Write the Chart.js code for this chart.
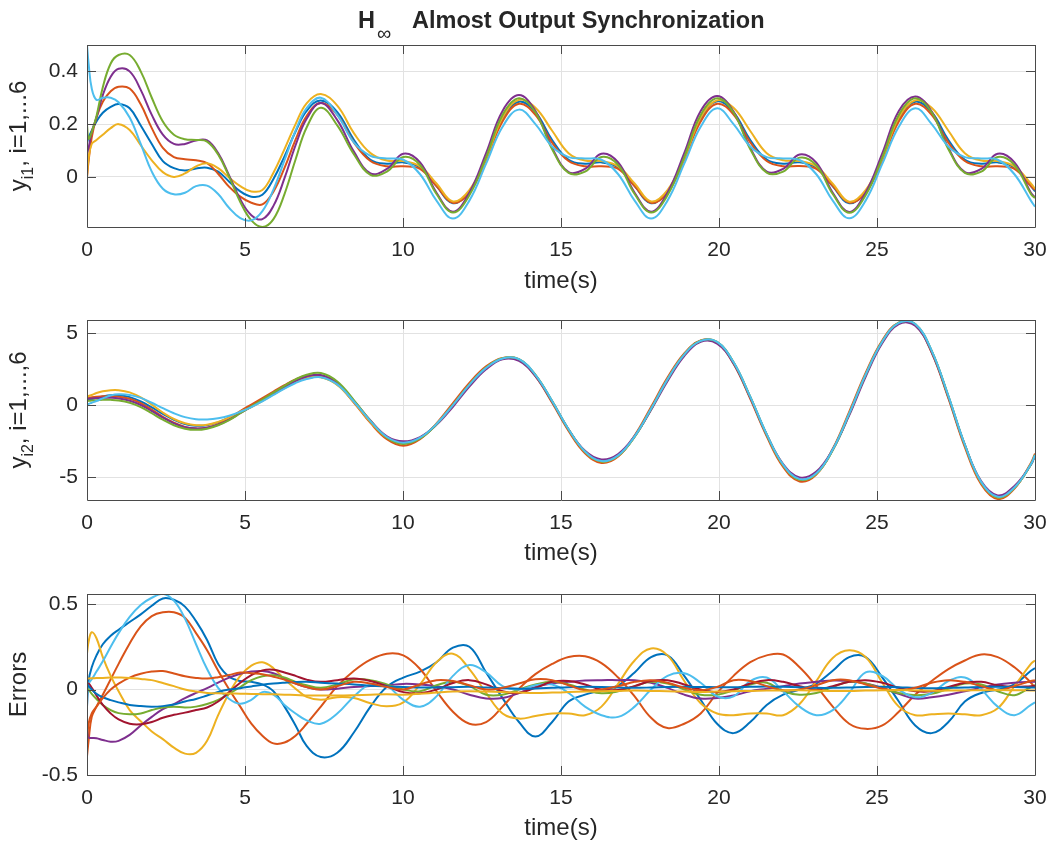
<!DOCTYPE html>
<html lang="en">
<head>
<meta charset="UTF-8">
<title>H∞ Almost Output Synchronization</title>
<script src="https://cdn.jsdelivr.net/npm/chart.js"></script>
<style>
  body { margin: 0; background: #fff; }
  canvas { position: absolute; left: 0; }
</style>
</head>
<body>
<canvas id="c1" width="1046" height="300" style="top:0px"></canvas>
<canvas id="c2" width="1046" height="270" style="top:300px"></canvas>
<canvas id="c3" width="1046" height="272" style="top:570px"></canvas>
<script>
// sample times (s), shared by all three panels
const times = [
  0, 0.05, 0.15, 0.3, 0.5, 0.75, 1, 1.35, 1.7, 2.05, 2.4, 2.75, 3.1, 3.45, 3.8, 4.15, 4.5, 4.85, 5.2, 5.55, 5.9, 6.25, 6.6, 6.95,
  7.4, 7.92, 8.45, 8.97, 9.49, 10.01, 10.54, 11.06, 11.58, 12.1, 12.63, 13.15,
  13.67, 14.19, 14.72, 15.24, 15.76, 16.28, 16.81, 17.33, 17.85, 18.37, 18.9, 19.42,
  19.94, 20.46, 20.99, 21.51, 22.03, 22.55, 23.08, 23.6, 24.12, 24.64, 25.17, 25.69,
  26.21, 26.73, 27.26, 27.78, 28.3, 28.82, 29.35, 29.87, 30
];
const xTicks = [0, 5, 10, 15, 20, 25, 30];
const y1Ticks = [0, 0.2, 0.4];
const y2Ticks = [-5, 0, 5];
const errTicks = [-0.5, 0, 0.5];

// y_i1
const y1Blue = [
  0.13, 0.15, 0.175, 0.21, 0.243, 0.265, 0.276, 0.26, 0.195, 0.125, 0.06, 0.033, 0.024, 0.032, 0.035, 0.02, -0.018, -0.055, -0.075, -0.068, -0.008, 0.078, 0.172, 0.25,
  0.29, 0.245, 0.14, 0.065, 0.05, 0.055, 0.035, -0.035, -0.1, -0.055, 0.07, 0.22,
  0.285, 0.245, 0.14, 0.065, 0.05, 0.055, 0.035, -0.035, -0.1, -0.055, 0.07, 0.22,
  0.287, 0.244, 0.14, 0.066, 0.05, 0.055, 0.034, -0.036, -0.1, -0.056, 0.07, 0.22,
  0.285, 0.245, 0.14, 0.065, 0.05, 0.055, 0.035, -0.035, -0.055
];
const y1Orange = [
  0.0, 0.06, 0.15, 0.225, 0.285, 0.325, 0.342, 0.335, 0.275, 0.185, 0.11, 0.075, 0.067, 0.063, 0.052, 0.012, -0.038, -0.075, -0.098, -0.104, -0.056, 0.034, 0.141, 0.231,
  0.28, 0.235, 0.13, 0.06, 0.04, 0.04, 0.03, -0.035, -0.098, -0.06, 0.065, 0.21,
  0.277, 0.235, 0.13, 0.06, 0.04, 0.04, 0.03, -0.035, -0.098, -0.06, 0.065, 0.21,
  0.277, 0.236, 0.131, 0.06, 0.04, 0.041, 0.03, -0.034, -0.097, -0.06, 0.064, 0.21,
  0.277, 0.235, 0.13, 0.06, 0.04, 0.04, 0.03, -0.035, -0.05
];
const y1Yellow = [
  0.0, 0.07, 0.125, 0.14, 0.16, 0.185, 0.2, 0.178, 0.12, 0.063, 0.018, 0.0, 0.013, 0.04, 0.052, 0.033, -0.003, -0.035, -0.055, -0.05, 0.016, 0.105, 0.2, 0.279,
  0.314, 0.27, 0.165, 0.09, 0.062, 0.06, 0.04, -0.025, -0.093, -0.05, 0.07, 0.225,
  0.292, 0.262, 0.175, 0.09, 0.062, 0.06, 0.04, -0.025, -0.093, -0.05, 0.07, 0.225,
  0.29, 0.262, 0.174, 0.09, 0.063, 0.06, 0.04, -0.026, -0.094, -0.05, 0.07, 0.225,
  0.29, 0.262, 0.175, 0.09, 0.062, 0.06, 0.04, -0.025, -0.045
];
const y1Purple = [
  0.09, 0.11, 0.17, 0.225, 0.31, 0.38, 0.41, 0.4, 0.33, 0.235, 0.16, 0.125, 0.125, 0.138, 0.138, 0.09, 0.005, -0.085, -0.145, -0.16, -0.11, -0.005, 0.12, 0.22,
  0.28, 0.215, 0.095, 0.013, 0.03, 0.088, 0.055, -0.06, -0.132, -0.06, 0.09, 0.25,
  0.31, 0.25, 0.11, 0.018, 0.03, 0.088, 0.055, -0.06, -0.132, -0.06, 0.09, 0.25,
  0.307, 0.248, 0.11, 0.02, 0.03, 0.085, 0.054, -0.06, -0.133, -0.06, 0.09, 0.25,
  0.305, 0.248, 0.11, 0.018, 0.03, 0.088, 0.055, -0.06, -0.077
];
const y1Green = [
  0.197, 0.145, 0.17, 0.23, 0.34, 0.43, 0.462, 0.462, 0.4, 0.3, 0.21, 0.16, 0.143, 0.14, 0.134, 0.085, 0.0, -0.095, -0.165, -0.19, -0.16, -0.065, 0.066, 0.187,
  0.262, 0.195, 0.085, 0.008, 0.02, 0.075, 0.045, -0.065, -0.135, -0.07, 0.075, 0.235,
  0.298, 0.245, 0.105, 0.015, 0.02, 0.075, 0.045, -0.065, -0.135, -0.07, 0.075, 0.235,
  0.298, 0.244, 0.105, 0.016, 0.02, 0.073, 0.044, -0.065, -0.136, -0.07, 0.075, 0.235,
  0.298, 0.245, 0.105, 0.015, 0.02, 0.075, 0.045, -0.065, -0.08
];
const y1Cyan = [
  0.5, 0.43, 0.335, 0.292, 0.3, 0.3, 0.283, 0.225, 0.125, 0.02, -0.045, -0.066, -0.06, -0.035, -0.033, -0.065, -0.118, -0.156, -0.165, -0.13, -0.048, 0.063, 0.175, 0.261,
  0.30, 0.235, 0.13, 0.08, 0.07, 0.065, 0.01, -0.09, -0.158, -0.09, 0.05, 0.19,
  0.255, 0.2, 0.115, 0.075, 0.07, 0.065, 0.01, -0.09, -0.158, -0.09, 0.05, 0.19,
  0.26, 0.2, 0.115, 0.075, 0.07, 0.064, 0.01, -0.09, -0.157, -0.09, 0.05, 0.19,
  0.26, 0.2, 0.115, 0.075, 0.07, 0.065, 0.01, -0.09, -0.113
];

// y_i2
const y2Blue = [
  0.35, 0.38, 0.43, 0.52, 0.62, 0.7, 0.7, 0.57, 0.27, -0.15, -0.6, -1.0, -1.3, -1.42, -1.38, -1.18, -0.85, -0.45, -0.05, 0.38, 0.82, 1.25, 1.62, 1.88,
  1.96, 1.45, 0.24, -1.12, -2.22, -2.62, -2.27, -1.32, 0.0, 1.4, 2.58, 3.24,
  3.17, 2.08, 0.26, -1.7, -3.24, -3.9, -3.5, -2.18, -0.27, 1.78, 3.51, 4.46,
  4.36, 2.95, 0.55, -2.05, -4.16, -5.15, -4.74, -3.1, -0.61, 2.1, 4.41, 5.7,
  5.6, 3.74, 0.59, -2.77, -5.37, -6.38, -5.71, -4.11, -3.45
];
const y2Orange = [
  0.5, 0.52, 0.56, 0.6, 0.63, 0.63, 0.6, 0.45, 0.15, -0.3, -0.8, -1.2, -1.5, -1.62, -1.55, -1.3, -0.9, -0.4, 0.05, 0.5, 0.95, 1.4, 1.8, 2.05,
  2.02, 1.45, 0.18, -1.22, -2.35, -2.8, -2.35, -1.25, 0.15, 1.55, 2.7, 3.28,
  3.17, 2.02, 0.18, -1.78, -3.32, -4.0, -3.55, -2.1, -0.12, 1.92, 3.6, 4.5,
  4.35, 2.88, 0.45, -2.15, -4.27, -5.28, -4.8, -3.02, -0.45, 2.25, 4.52, 5.74,
  5.58, 3.66, 0.48, -2.9, -5.5, -6.5, -5.78, -4.0, -3.35
];
const y2Yellow = [
  0.6, 0.65, 0.72, 0.85, 0.97, 1.05, 1.05, 0.9, 0.55, 0.05, -0.5, -0.95, -1.25, -1.38, -1.35, -1.15, -0.85, -0.45, -0.12, 0.3, 0.75, 1.2, 1.6, 1.9,
  1.95, 1.42, 0.2, -1.16, -2.25, -2.63, -2.26, -1.3, 0.02, 1.42, 2.6, 3.26,
  3.18, 2.1, 0.28, -1.68, -3.22, -3.9, -3.5, -2.18, -0.26, 1.79, 3.52, 4.47,
  4.38, 2.97, 0.57, -2.04, -4.15, -5.16, -4.75, -3.1, -0.6, 2.11, 4.42, 5.71,
  5.62, 3.76, 0.61, -2.76, -5.37, -6.4, -5.72, -4.1, -3.44
];
const y2Purple = [
  0.45, 0.46, 0.48, 0.5, 0.52, 0.52, 0.48, 0.32, 0.02, -0.4, -0.85, -1.25, -1.52, -1.6, -1.55, -1.35, -1.0, -0.55, -0.1, 0.35, 0.8, 1.25, 1.7, 2.0,
  2.1, 1.55, 0.3, -1.05, -2.15, -2.5, -2.2, -1.35, -0.1, 1.3, 2.5, 3.2,
  3.08, 2.03, 0.25, -1.68, -3.16, -3.76, -3.38, -2.12, -0.32, 1.68, 3.42, 4.4,
  4.28, 2.9, 0.52, -2.04, -4.08, -5.0, -4.6, -3.05, -0.7, 1.98, 4.32, 5.64,
  5.52, 3.68, 0.56, -2.75, -5.28, -6.25, -5.6, -4.12, -3.5
];
const y2Green = [
  0.3, 0.31, 0.33, 0.36, 0.38, 0.38, 0.34, 0.18, -0.12, -0.55, -1.0, -1.38, -1.62, -1.7, -1.62, -1.38, -1.02, -0.55, -0.08, 0.4, 0.88, 1.35, 1.8, 2.12,
  2.24, 1.65, 0.35, -1.08, -2.25, -2.68, -2.3, -1.32, 0.03, 1.43, 2.62, 3.26,
  3.2, 2.12, 0.29, -1.68, -3.22, -3.9, -3.5, -2.17, -0.25, 1.8, 3.53, 4.48,
  4.4, 2.99, 0.58, -2.03, -4.15, -5.16, -4.75, -3.09, -0.59, 2.12, 4.44, 5.73,
  5.64, 3.78, 0.62, -2.75, -5.36, -6.4, -5.72, -4.1, -3.44
];
const y2Cyan = [
  0.05, 0.1, 0.18, 0.3, 0.48, 0.68, 0.76, 0.72, 0.52, 0.18, -0.2, -0.55, -0.82, -0.97, -0.98, -0.9, -0.72, -0.45, -0.12, 0.28, 0.72, 1.15, 1.55, 1.82,
  1.95, 1.45, 0.25, -1.1, -2.2, -2.6, -2.25, -1.3, 0.02, 1.42, 2.6, 3.25,
  3.2, 2.12, 0.3, -1.66, -3.2, -3.87, -3.47, -2.15, -0.24, 1.8, 3.52, 4.47,
  4.4, 3.0, 0.6, -2.0, -4.12, -5.12, -4.72, -3.07, -0.58, 2.13, 4.43, 5.72,
  5.64, 3.8, 0.65, -2.72, -5.33, -6.35, -5.7, -4.1, -3.45
];

// errors
const errBlueA = [
  -0.1, 0.05, 0.13, 0.2, 0.265, 0.315, 0.35, 0.395, 0.44, 0.49, 0.533, 0.525, 0.485, 0.4, 0.29, 0.15, 0.075, 0.05, 0.045, 0.03, -0.01, -0.1, -0.21, -0.33,
  -0.395, -0.37, -0.25, -0.1, 0.016, 0.07, 0.105, 0.16, 0.245, 0.25, 0.1, -0.05,
  -0.19, -0.275, -0.19, -0.07, -0.03, -0.005, 0.025, 0.1, 0.19, 0.2, 0.08, -0.06,
  -0.2, -0.255, -0.19, -0.09, -0.03, 0.0, 0.035, 0.11, 0.19, 0.19, 0.07, -0.07,
  -0.21, -0.255, -0.19, -0.07, -0.02, 0.0, 0.03, 0.11, 0.125
];
const errOrangeA = [
  -0.39, -0.3, -0.16, -0.1, -0.03, 0.06, 0.15, 0.27, 0.37, 0.43, 0.452, 0.452, 0.42, 0.33, 0.23, 0.11, 0.0, -0.1, -0.2, -0.27, -0.315, -0.31, -0.27, -0.2,
  -0.1, 0.02, 0.11, 0.175, 0.21, 0.2, 0.12, -0.01, -0.13, -0.2, -0.19, -0.1,
  0.005, 0.09, 0.15, 0.19, 0.195, 0.155, 0.07, -0.04, -0.165, -0.225, -0.2, -0.14,
  -0.02, 0.08, 0.16, 0.2, 0.205, 0.13, 0.02, -0.1, -0.2, -0.23, -0.21, -0.13,
  -0.03, 0.05, 0.12, 0.17, 0.205, 0.19, 0.13, 0.04, 0.01
];
const errYellowA = [
  0.21, 0.28, 0.335, 0.3, 0.19, 0.08, -0.01, -0.12, -0.185, -0.245, -0.29, -0.34, -0.375, -0.37, -0.3, -0.15, -0.02, 0.08, 0.14, 0.16, 0.125, 0.06, 0.005, -0.043,
  -0.06, -0.045, -0.05, -0.08, -0.098, -0.075, 0.03, 0.16, 0.21, 0.12, -0.02, -0.14,
  -0.17, -0.155, -0.14, -0.14, -0.15, -0.1, 0.035, 0.17, 0.24, 0.2, 0.05, -0.08,
  -0.14, -0.15, -0.14, -0.14, -0.15, -0.085, 0.05, 0.185, 0.23, 0.19, 0.04, -0.1,
  -0.15, -0.145, -0.14, -0.145, -0.15, -0.11, 0.02, 0.15, 0.17
];
const errPurple = [
  -0.21, -0.28, -0.283, -0.285, -0.295, -0.305, -0.3, -0.265, -0.21, -0.16, -0.115, -0.085, -0.05, -0.02, 0.008, 0.04, 0.07, 0.092, 0.105, 0.108, 0.095, 0.065, 0.035, 0.014,
  0.0, 0.005, 0.015, 0.02, 0.025, 0.033, 0.03, 0.02, 0.0, -0.03, -0.052, -0.05,
  -0.02, 0.015, 0.035, 0.045, 0.053, 0.055, 0.055, 0.055, 0.04, 0.01, -0.03, -0.053,
  -0.05, -0.035, -0.01, 0.005, 0.02, 0.035, 0.045, 0.053, 0.05, 0.035, 0.01, -0.025,
  -0.053, -0.045, -0.03, -0.01, 0.01, 0.03, 0.04, 0.045, 0.045
];
const errGreen = [
  0.016, 0.0, -0.025, -0.055, -0.09, -0.12, -0.138, -0.145, -0.14, -0.12, -0.105, -0.1, -0.105, -0.1, -0.085, -0.06, -0.025, 0.015, 0.055, 0.078, 0.084, 0.07, 0.045, 0.025,
  0.01, 0.03, 0.06, 0.055, 0.03, 0.0, -0.01, 0.025, 0.045, 0.02, -0.03, -0.03,
  0.0, 0.03, 0.045, 0.03, 0.0, -0.022, -0.01, 0.02, 0.045, 0.035, 0.0, -0.03,
  -0.03, -0.005, 0.03, 0.04, -0.01, -0.03, -0.02, 0.015, 0.045, 0.035, 0.005, -0.02,
  -0.033, -0.025, 0.005, 0.035, 0.03, -0.01, -0.033, 0.015, 0.025
];
const errCyan = [
  0.0, 0.035, 0.06, 0.105, 0.165, 0.25, 0.33, 0.425, 0.495, 0.537, 0.56, 0.52, 0.415, 0.265, 0.12, 0.01, -0.055, -0.083, -0.06, -0.015, -0.03, -0.09, -0.14, -0.18,
  -0.2, -0.14, -0.04, 0.03, 0.02, -0.06, -0.1, -0.04, 0.08, 0.143, 0.1, 0.02,
  0.0, 0.025, 0.03, -0.02, -0.1, -0.15, -0.16, -0.1, 0.0, 0.08, 0.095, 0.04,
  -0.04, -0.04, 0.05, 0.07, -0.01, -0.1, -0.15, -0.12, -0.02, 0.1, 0.08, 0.0,
  -0.045, -0.02, 0.05, 0.07, 0.0, -0.1, -0.15, -0.09, -0.075
];
const errDarkRed = [
  0.016, 0.035, 0.01, -0.035, -0.09, -0.14, -0.175, -0.2, -0.203, -0.19, -0.165, -0.148, -0.135, -0.12, -0.105, -0.07, -0.015, 0.04, 0.085, 0.112, 0.116, 0.1, 0.08, 0.058,
  0.045, 0.055, 0.065, 0.05, 0.02, -0.015, -0.022, 0.0, 0.038, 0.055, 0.03, -0.01,
  -0.02, 0.01, 0.045, 0.05, 0.03, 0.0, -0.002, 0.02, 0.05, 0.055, 0.03, 0.0,
  -0.014, 0.0, 0.035, 0.055, 0.045, 0.02, 0.0, 0.02, 0.045, 0.055, 0.04, 0.01,
  -0.01, -0.01, 0.015, 0.04, 0.045, 0.025, 0.015, 0.02, 0.022
];
const errBlueB = [
  0.035, 0.02, 0.0, -0.025, -0.045, -0.062, -0.075, -0.09, -0.097, -0.1, -0.097, -0.088, -0.07, -0.055, -0.035, -0.014, 0.0, 0.008, 0.018, 0.028, 0.035, 0.04, 0.044, 0.045,
  0.04, 0.035, 0.03, 0.022, 0.018, 0.015, 0.012, 0.012, 0.014, 0.016, 0.012, 0.008,
  0.005, 0.006, 0.01, 0.014, 0.016, 0.015, 0.012, 0.01, 0.012, 0.015, 0.016, 0.015,
  0.014, 0.014, 0.016, 0.018, 0.016, 0.013, 0.01, 0.01, 0.012, 0.015, 0.016, 0.014,
  0.01, 0.008, 0.01, 0.012, 0.015, 0.016, 0.015, 0.012, 0.012
];
const errOrangeB = [
  -0.3, -0.2, -0.14, -0.1, -0.05, 0.0, 0.035, 0.07, 0.092, 0.105, 0.108, 0.094, 0.078, 0.068, 0.064, 0.072, 0.085, 0.1, 0.095, 0.09, 0.075, 0.058, 0.035, 0.015,
  0.0, 0.02, 0.045, 0.035, 0.015, 0.0, 0.03, 0.055, 0.05, 0.025, 0.0, 0.01,
  0.035, 0.06, 0.055, 0.025, -0.004, 0.0, 0.02, 0.045, 0.055, 0.04, 0.01, -0.004,
  0.015, 0.055, 0.05, 0.02, -0.004, 0.0, 0.025, 0.055, 0.055, 0.03, 0.005, -0.004,
  0.01, 0.04, 0.055, 0.045, 0.02, -0.004, 0.02, 0.05, 0.055
];
const errYellowB = [
  0.064, 0.065, 0.066, 0.067, 0.068, 0.07, 0.07, 0.068, 0.062, 0.055, 0.038, 0.02, 0.0, -0.012, -0.02, -0.022, -0.023, -0.024, -0.026, -0.027, -0.028, -0.03, -0.032, -0.035,
  -0.035, -0.035, -0.033, -0.03, -0.028, -0.03, -0.025, -0.018, -0.012, -0.01, -0.012, -0.015,
  -0.018, -0.02, -0.018, -0.015, -0.012, -0.01, -0.008, -0.006, -0.008, -0.01, -0.012, -0.014,
  -0.012, -0.01, -0.008, -0.006, -0.005, -0.004, -0.006, -0.008, -0.008, -0.006, -0.004, -0.003,
  -0.005, -0.007, -0.006, -0.005, -0.004, -0.003, -0.004, -0.005, -0.005
];

// matlab default line colours
const BLUE = '#0072BD', ORANGE = '#D95319', YELLOW = '#EDB120', PURPLE = '#7E2F8E',
      GREEN = '#77AC30', CYAN = '#4DBEEE', DARKRED = '#A2142F';
const TEXT = '#262626', AXIS = '#4a4a4a', GRID = '#e2e2e2';
const FONT = '"Liberation Sans", Arial, Helvetica, sans-serif';

function toPoints(arr) {
  return times.map((t, i) => ({ x: t, y: arr[i] }));
}

// draw text pieces (for sub/superscripts); rotated ones are centred on (x, y)
function drawParts(ctx, parts, x, y, rotated) {
  ctx.save();
  ctx.translate(x, y);
  if (rotated) ctx.rotate(-Math.PI / 2);
  ctx.textAlign = 'left';
  ctx.textBaseline = 'alphabetic';
  let w = 0;
  parts.forEach(p => { ctx.font = p.font; w += ctx.measureText(p.text).width; });
  let cx = rotated ? -w / 2 : 0;
  parts.forEach(p => {
    ctx.font = p.font;
    const px = p.x !== undefined ? p.x : cx;
    ctx.fillText(p.text, px, p.dy || 0);
    cx = px + ctx.measureText(p.text).width;
  });
  ctx.restore();
}

function makePanel(id, series, yMin, yMax, yTicks, topPad, xHeight, yLabel, xTitleY, extra) {
  const deco = {
    id: 'deco',
    afterDraw(chart) {
      const { ctx, chartArea: a, scales } = chart;
      ctx.save();
      ctx.strokeStyle = AXIS;
      ctx.lineWidth = 1;
      ctx.beginPath();
      ctx.rect(a.left + 0.5, a.top + 0.5, a.right - a.left, a.bottom - a.top);
      xTicks.forEach(v => {
        const px = Math.round(scales.x.getPixelForValue(v)) + 0.5;
        ctx.moveTo(px, a.bottom); ctx.lineTo(px, a.bottom - 9);
        ctx.moveTo(px, a.top); ctx.lineTo(px, a.top + 9);
      });
      yTicks.forEach(v => {
        const py = Math.round(scales.y.getPixelForValue(v)) + 0.5;
        ctx.moveTo(a.left, py); ctx.lineTo(a.left + 9, py);
        ctx.moveTo(a.right, py); ctx.lineTo(a.right - 9, py);
      });
      ctx.stroke();
      ctx.fillStyle = TEXT;
      drawParts(ctx, yLabel, 26, (a.top + a.bottom) / 2, true);
      ctx.font = '24px ' + FONT;
      ctx.textAlign = 'center';
      ctx.textBaseline = 'alphabetic';
      ctx.fillText('time(s)', (a.left + a.right) / 2, xTitleY);
      if (extra) extra(ctx);
      ctx.restore();
    }
  };
  const n = series.length;
  return new Chart(document.getElementById(id), {
    type: 'line',
    data: {
      datasets: series.map((s, i) => ({
        data: toPoints(s.data),
        borderColor: s.color,
        borderWidth: 2,
        pointRadius: 0,
        tension: 0.4,
        fill: false,
        order: n - i
      }))
    },
    options: {
      responsive: false,
      animation: false,
      devicePixelRatio: 1,
      layout: { padding: { top: topPad, right: 11, left: 0, bottom: 0 } },
      plugins: { legend: { display: false }, tooltip: { enabled: false } },
      scales: {
        x: {
          type: 'linear', min: 0, max: 30,
          afterBuildTicks: ax => { ax.ticks = xTicks.map(v => ({ value: v })); },
          afterFit: sc => { sc.height = xHeight; sc.paddingLeft = 0; sc.paddingRight = 0; },
          grid: { color: GRID, drawTicks: false },
          border: { display: false },
          ticks: { color: TEXT, font: { family: FONT, size: 21 }, padding: 11, maxRotation: 0, callback: v => String(v) }
        },
        y: {
          type: 'linear', min: yMin, max: yMax,
          afterBuildTicks: ax => { ax.ticks = yTicks.map(v => ({ value: v })); },
          afterFit: sc => { sc.width = 87; sc.paddingTop = 0; sc.paddingBottom = 0; },
          grid: { color: GRID, drawTicks: false },
          border: { display: false },
          ticks: { color: TEXT, font: { family: FONT, size: 21 }, padding: 9, callback: v => String(v) }
        }
      }
    },
    plugins: [deco]
  });
}

const big = '24px ' + FONT, sub = '16px ' + FONT;

makePanel('c1', [
  { data: y1Blue, color: BLUE }, { data: y1Orange, color: ORANGE }, { data: y1Yellow, color: YELLOW },
  { data: y1Purple, color: PURPLE }, { data: y1Green, color: GREEN }, { data: y1Cyan, color: CYAN }
], -0.19, 0.5, y1Ticks, 45, 73,
  [{ text: 'y', font: big }, { text: 'i1', font: sub, dy: 7 }, { text: ', i=1,...6', font: big }],
  288,
  ctx => {
    drawParts(ctx, [
      { text: 'H', font: 'bold 23.5px ' + FONT, x: 358 },
      { text: '∞', font: '20px ' + FONT, x: 377, dy: 12 },
      { text: 'Almost Output Synchronization', font: 'bold 23.5px ' + FONT, x: 412 }
    ], 0, 28, false);
  });

makePanel('c2', [
  { data: y2Blue, color: BLUE }, { data: y2Orange, color: ORANGE }, { data: y2Yellow, color: YELLOW },
  { data: y2Purple, color: PURPLE }, { data: y2Green, color: GREEN }, { data: y2Cyan, color: CYAN }
], -6.57, 5.92, y2Ticks, 20, 70,
  [{ text: 'y', font: big }, { text: 'i2', font: sub, dy: 7 }, { text: ', i=1,...,6', font: big }],
  260);

makePanel('c3', [
  { data: errBlueA, color: BLUE }, { data: errOrangeA, color: ORANGE }, { data: errYellowA, color: YELLOW },
  { data: errPurple, color: PURPLE }, { data: errGreen, color: GREEN }, { data: errCyan, color: CYAN },
  { data: errDarkRed, color: DARKRED }, { data: errBlueB, color: BLUE }, { data: errOrangeB, color: ORANGE },
  { data: errYellowB, color: YELLOW }
], -0.5, 0.559, errTicks, 24, 67,
  [{ text: 'Errors', font: big }],
  265);
</script>
</body>
</html>
